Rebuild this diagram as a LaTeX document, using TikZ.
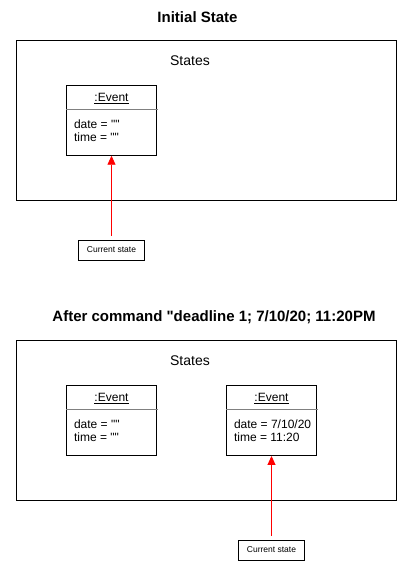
\documentclass[tikz,border=0pt]{standalone}
\usepackage{fontspec}
\setmainfont{Liberation Sans}[Ligatures=TeXOff]
\usetikzlibrary{arrows.meta,positioning}
\begin{document}
\begin{tikzpicture}[x=1pt,y=-1pt,
    frame/.style={draw,line width=0.9pt,minimum width=379.6pt,minimum height=159.3pt,inner sep=0pt},
    obj/.style={draw,line width=0.9pt,minimum width=89.6pt,minimum height=70pt,inner sep=0pt},
    objname/.style={anchor=base,inner sep=0pt,font=\fontsize{12}{14}\selectfont},
    attr/.style={anchor=base west,inner sep=0pt,font=\fontsize{12}{14}\selectfont},
    tag/.style={draw,line width=0.9pt,minimum width=65.3pt,minimum height=20pt,inner sep=0pt,font=\fontsize{8.5}{10}\selectfont},
    head/.style={font=\fontsize{15}{17}\selectfont\bfseries},
    label/.style={font=\fontsize{14}{16}\selectfont},
    ptr/.style={draw=red,line width=0.9pt,shorten <=4pt,-{Triangle[width=8pt,length=9pt]}}]
  \useasboundingbox (0,0) rectangle (413,561);
  % initial state
  \node[head] (title1) at (197.5,17) {Initial State};
  \node[frame] (frame1) at (206.5,120.3) {};
  \node[label] (states1) at (190,60.5) {States};
  \node[obj] (ev1) at (111.5,120.3) {};
  \node[objname] (ev1name) at ([yshift=-16.4pt]ev1.north) {\underline{:Event}};
  \draw[gray] ([yshift=-24pt]ev1.north west) -- ([yshift=-24pt,xshift=1pt]ev1.north east);
  \node[attr] (ev1date) at ([xshift=7.6pt,yshift=-43.2pt]ev1.north west) {date = ""};
  \node[attr] (ev1time) at ([xshift=7.6pt,yshift=-56.7pt]ev1.north west) {time = ""};
  \node[tag] (cur1) at (111.5,250) {Current state};
  \draw[ptr] (cur1) -- (ev1);
  % after the deadline command
  \node[head] (title2) at (214,317) {After command "deadline 1; 7/10/20; 11:20PM};
  \node[frame] (frame2) at (206.5,420.3) {};
  \node[label] (states2) at (190,360.5) {States};
  \node[obj] (ev2) at (111.5,420.5) {};
  \node[objname] (ev2name) at ([yshift=-16.4pt]ev2.north) {\underline{:Event}};
  \draw[gray] ([yshift=-24pt]ev2.north west) -- ([yshift=-24pt,xshift=1pt]ev2.north east);
  \node[attr] (ev2date) at ([xshift=7.6pt,yshift=-43.2pt]ev2.north west) {date = ""};
  \node[attr] (ev2time) at ([xshift=7.6pt,yshift=-56.7pt]ev2.north west) {time = ""};
  \node[obj] (ev3) at (271.5,420.5) {};
  \node[objname] (ev3name) at ([yshift=-16.4pt]ev3.north) {\underline{:Event}};
  \draw[gray] ([yshift=-24pt]ev3.north west) -- ([yshift=-24pt,xshift=1pt]ev3.north east);
  \node[attr] (ev3date) at ([xshift=7.6pt,yshift=-43.2pt]ev3.north west) {date = 7/10/20};
  \node[attr] (ev3time) at ([xshift=7.6pt,yshift=-56.7pt]ev3.north west) {time = 11:20};
  \node[tag] (cur2) at (271.5,550) {Current state};
  \draw[ptr] (cur2) -- (ev3);
\end{tikzpicture}
\end{document}
